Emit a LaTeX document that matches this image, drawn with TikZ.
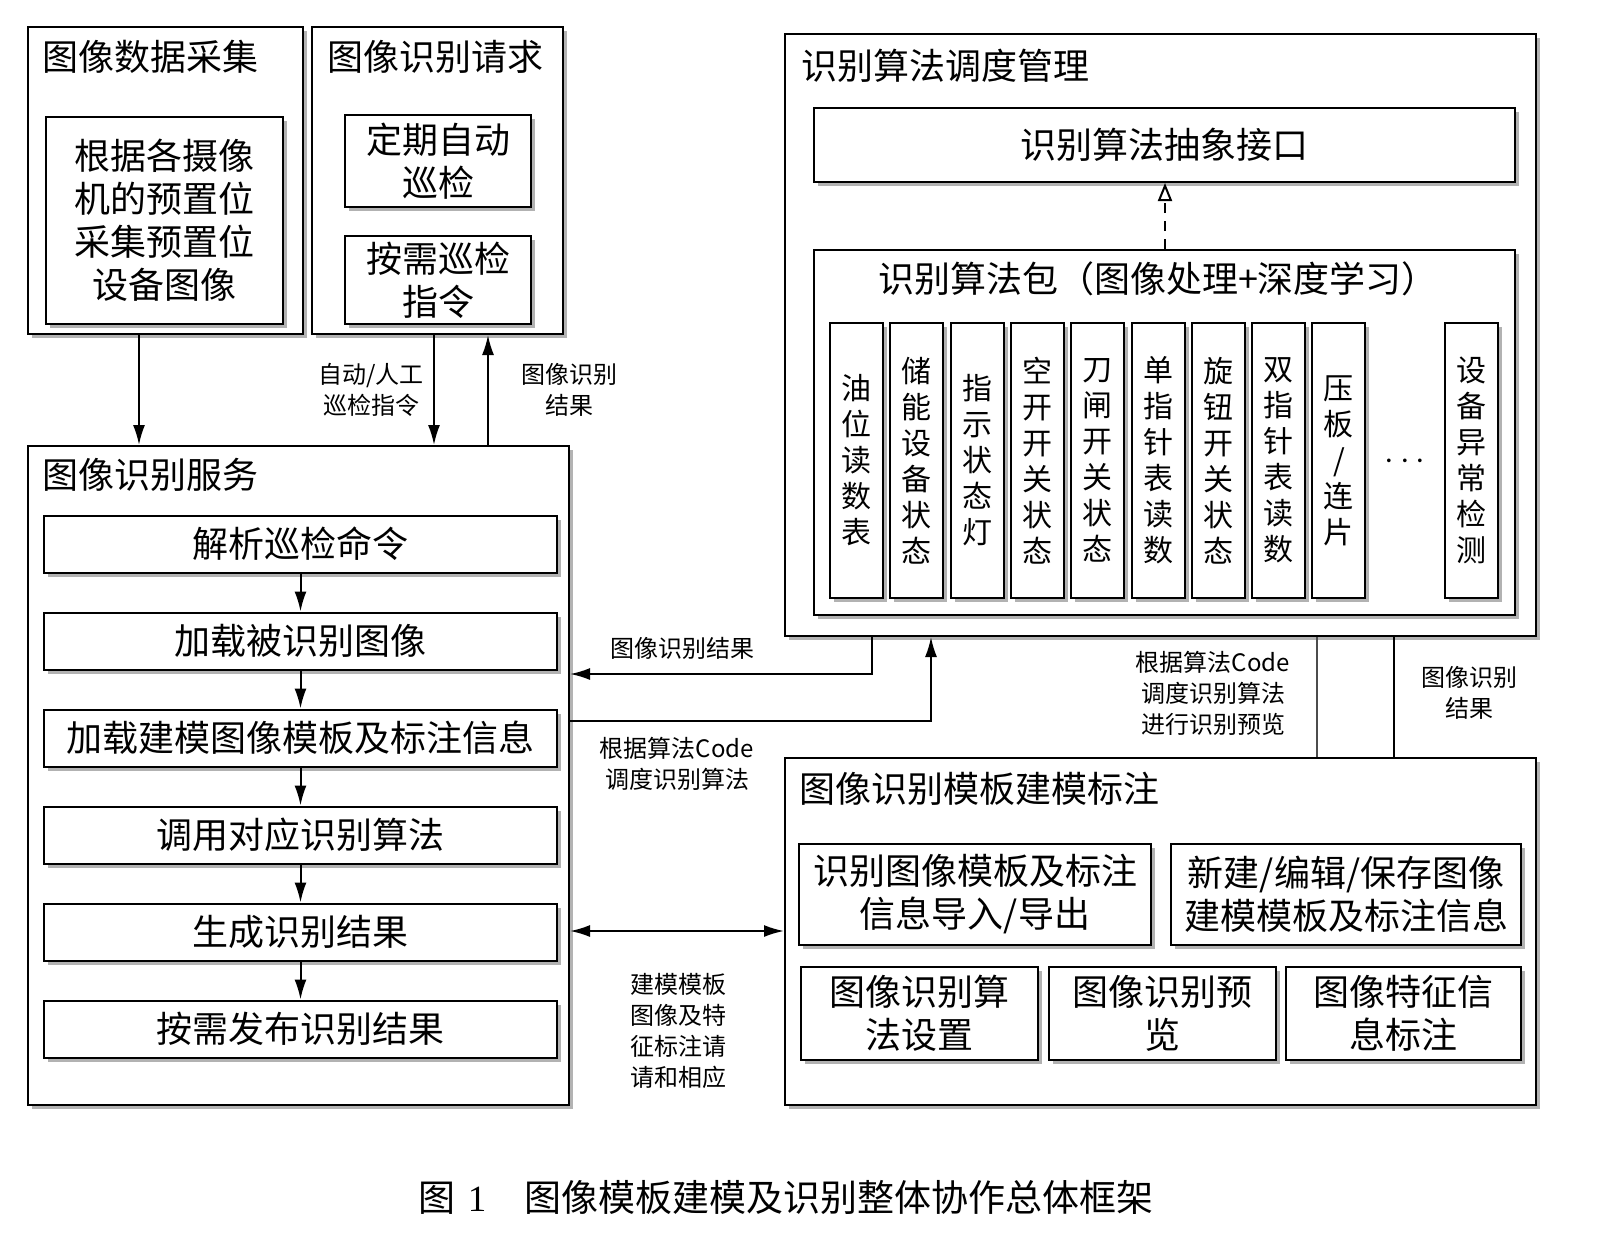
\documentclass[tikz,border=0pt]{standalone}
\usepackage{fontspec}
\setmainfont{Noto Sans CJK SC}
\newfontfamily\capnum{Liberation Serif}
\usetikzlibrary{arrows.meta,shadows}

\begin{document}
\begin{tikzpicture}[x=.5pt,y=-.5pt,line width=1pt,>={Latex[length=10pt,width=6pt]},
 font=\fontsize{18}{21.5}\selectfont,
 box/.style={draw,fill=white,inner sep=0pt,align=center,
  drop shadow={shadow xshift=2pt,shadow yshift=-2pt,opacity=.6}},
 col/.style={box,minimum width=26.5pt,minimum height=137.5pt,
  font=\fontsize{15}{18}\selectfont},
 ttl/.style={anchor=west,inner sep=0pt},
 lbl/.style={align=center,inner sep=0pt,font=\fontsize{12}{15.5}\selectfont}]
\useasboundingbox (0,0) rectangle (1602,1249);
\node[box,minimum width=137.5pt,minimum height=153.5pt] (cj) at (165.5,180.5) {};
\node[ttl] (cjT) at (41,57) {图像数据采集};
\node[box,minimum width=118.5pt,minimum height=103.5pt] (cjn) at (164.5,220.5)
 {根据各摄像\\机的预置位\\采集预置位\\设备图像};
\node[box,minimum width=125.5pt,minimum height=153.5pt] (qq) at (437.5,180.5) {};
\node[ttl] (qqT) at (326,57) {图像识别请求};
\node[box,minimum width=93pt,minimum height=46pt] (dq) at (438,161) {定期自动\\巡检};
\node[box,minimum width=93pt,minimum height=44pt] (ax) at (438,280) {按需巡检\\指令};
\node[box,minimum width=270.5pt,minimum height=329.5pt] (fw) at (298.5,775.5) {};
\node[ttl] (fwT) at (41,475) {图像识别服务};
\foreach \t [count=\i from 0] in {解析巡检命令,加载被识别图像,加载建模图像模板及标注信息,
 调用对应识别算法,生成识别结果,按需发布识别结果}
  \node[box,minimum width=256.5pt,minimum height=28.5pt] (s\i) at (300.5,544+97*\i) {\t};
\foreach \i/\j in {0/1,1/2,2/3,3/4,4/5}
  \draw[->] (s\i) -- (s\j);
\node[box,minimum width=375.5pt,minimum height=301pt] (dd) at (1160.5,335) {};
\node[ttl] (ddT) at (800,66) {识别算法调度管理};
\node[box,minimum width=350.5pt,minimum height=37pt] (jk) at (1164.5,145) {识别算法抽象接口};
\node[box,minimum width=350.5pt,minimum height=182.5pt] (bao) at (1164.5,432.5) {};
\node (baoT) at (1158,279) {识别算法包（图像处理+深度学习）};
\foreach \t [count=\i from 0] in {{油\\位\\读\\数\\表},{储\\能\\设\\备\\状\\态},{指\\示\\状\\态\\灯},
 {空\\开\\开\\关\\状\\态},{刀\\闸\\开\\关\\状\\态},{单\\指\\针\\表\\读\\数},{旋\\钮\\开\\关\\状\\态},
 {双\\指\\针\\表\\读\\数},{压\\板\\/\\连\\片}}
  \node[col] (c\i) at (856.5+60.3*\i,460.5) {\t};
\node[col] (c9) at (1471.5,460.5) {设\\备\\异\\常\\检\\测};
\node (dots) at (1405,462) {$\cdots$};
\draw[dash pattern=on 5pt off 4pt,-{Triangle[open,length=9pt,width=7pt]}]
 (bao.north -| 1165,0) -- (jk.south -| 1165,0);
\node[box,minimum width=375.5pt,minimum height=173.5pt] (mb) at (1160.5,931.5) {};
\node[ttl] (mbT) at (798,789) {图像识别模板建模标注};
\node[box,minimum width=176pt,minimum height=50.5pt] (dr) at (975,894.5)
 {识别图像模板及标注\\信息导入/导出};
\node[box,minimum width=175pt,minimum height=50.5pt] (xj) at (1346,894.5)
 {新建/编辑/保存图像\\建模模板及标注信息};
\node[box,minimum width=118.5pt,minimum height=46.5pt] (sf) at (919.5,1013.5) {图像识别算\\法设置};
\node[box,minimum width=113.5pt,minimum height=46.5pt] (yl) at (1162.5,1013.5) {图像识别预\\览};
\node[box,minimum width=117.5pt,minimum height=46.5pt] (tz) at (1403.5,1013.5) {图像特征信\\息标注};
\draw[->] (cj.south -| 139,0) -- (fw.north -| 139,0);
\draw[->] (qq.south -| 434,0) -- (fw.north -| 434,0);
\draw[->] (fw.north -| 488,0) -- (qq.south -| 488,0);
\node[lbl] (l1) at (371,390) {自动/人工\\巡检指令};
\node[lbl] (l2) at (569,390) {图像识别\\结果};
\draw[->] (dd.south -| 872,0) |- (fw.east |- 0,674);
\node[lbl] (l3) at (682,648) {图像识别结果};
\draw[->] (fw.east |- 0,721) -| (dd.south -| 931,0);
\node[lbl] (l4) at (677,764) {根据算法Code\\调度识别算法};
\draw[<->] (fw.east |- 0,931) -- (mb.west |- 0,931);
\node[lbl] (l5) at (678,1031) {建模模板\\图像及特\\征标注请\\请和相应};
\draw[draw=black!70,line width=1.4pt] (dd.south -| 1317,0) -- (mb.north -| 1317,0);
\draw (dd.south -| 1394,0) -- (mb.north -| 1394,0);
\node[lbl] (l6) at (1213,693) {根据算法Code\\调度识别算法\\进行识别预览};
\node[lbl] (l7) at (1469,693) {图像识别\\结果};
\node[font=\fontsize{18.5}{22}\selectfont] (cap) at (786,1197)
 {图\hspace{6pt}{\capnum 1}\hspace{19pt}图像模板建模及识别整体协作总体框架};
\end{tikzpicture}
\end{document}
